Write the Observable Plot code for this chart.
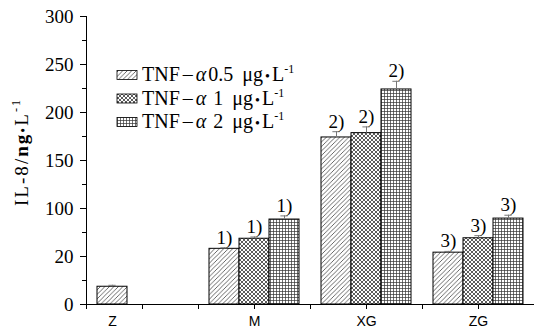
<!DOCTYPE html>
<html><head><meta charset="utf-8">
<script src="https://cdn.jsdelivr.net/npm/d3@7"></script>
<script src="https://cdn.jsdelivr.net/npm/@observablehq/plot@0.6"></script>
<style>body{margin:0;background:#fff}</style>
</head><body><div id="chart"></div>
<script>
// ---- data ----
const groups = ["Z", "M", "XG", "ZG"];
const seriesKeys = ["0.5", "1", "2"];
const valuesZ  = [18.5, null, null];
const valuesM  = [58, 68.5, 88.5];
const valuesXG = [174, 178.5, 224];
const valuesZG = [54, 69, 89.5];
const errZ  = [1.5, null, null];
const errM  = [1.0, 1.8, 3.8];
const errXG = [6.0, 6.5, 8.5];
const errZG = [1.3, 2.7, 3.5];
const notesZ  = ["", "", ""];
const notesM  = ["1)", "1)", "1)"];
const notesXG = ["2)", "2)", "2)"];
const notesZG = ["3)", "3)", "3)"];
const yTicks = [0, 50, 100, 150, 200, 250, 300];
const yTickLabels = ["0", "20", "100", "150", "200", "250", "300"];
const yMinorTicks = [25, 75, 125, 175, 225, 275];
const xTicks = [0, 1, 2, 3, 4, 5, 6, 7, 8];
const legendNums = ["0.5", " 1", " 2"];

// ---- layout ----
const barW = 30 / 56;
const patternIds = ["pHatch", "pCross", "pGrid"];
const values = [valuesZ, valuesM, valuesXG, valuesZG];
const errs = [errZ, errM, errXG, errZG];
const notes = [notesZ, notesM, notesXG, notesZG];

const rows = [];
groups.forEach((g, gi) => {
  const c = 1 + 2 * gi;
  seriesKeys.forEach((s, si) => {
    const v = values[gi][si];
    if (v == null) return;
    const x1 = c + (si - 1.5) * barW;
    rows.push({group: g, series: s, si, v, e: errs[gi][si], note: notes[gi][si],
      x1, x2: x1 + barW, xc: x1 + barW / 2, fill: `url(#${patternIds[si]})`});
  });
});
const labelRows = groups.map(g => {
  const r = rows.filter(d => d.group === g);
  return {group: g, x: d3.mean(r, d => d.xc)};
});

function defsAndLegend() {
  const g = d3.create("svg:g");
  const defs = g.append("defs");
  const p1 = defs.append("pattern").attr("id", "pHatch").attr("patternUnits", "userSpaceOnUse")
    .attr("width", 4.5).attr("height", 4.5);
  p1.append("rect").attr("width", 4.5).attr("height", 4.5).attr("fill", "#fff");
  p1.append("path").attr("d", "M-1,1 L1,-1 M0,4.5 L4.5,0 M3.5,5.5 L5.5,3.5")
    .attr("stroke", "#444").attr("stroke-width", 0.8);
  const p2 = defs.append("pattern").attr("id", "pCross").attr("patternUnits", "userSpaceOnUse")
    .attr("width", 4).attr("height", 4);
  p2.append("rect").attr("width", 4).attr("height", 4).attr("fill", "#fff");
  p2.append("path").attr("d", "M-1,1 L1,-1 M0,4 L4,0 M3,5 L5,3 M-1,3 L1,5 M0,0 L4,4 M3,-1 L5,1")
    .attr("stroke", "#333").attr("stroke-width", 0.8);
  const p3 = defs.append("pattern").attr("id", "pGrid").attr("patternUnits", "userSpaceOnUse")
    .attr("width", 3).attr("height", 3);
  p3.append("rect").attr("width", 3).attr("height", 3).attr("fill", "#fff");
  p3.append("path").attr("d", "M0,0.5 H3 M0.5,0 V3").attr("stroke", "#333").attr("stroke-width", 0.7);

  // legend
  const lg = g.append("g").attr("font-family", "Liberation Serif").attr("font-size", 20)
    .attr("fill", "#000").attr("text-anchor", "start");
  seriesKeys.forEach((k, i) => {
    const y = 75 + i * 23.5;
    lg.append("rect").attr("x", 117).attr("y", y - 4.5).attr("width", 20).attr("height", 9)
      .attr("fill", `url(#${patternIds[i]})`).attr("stroke", "#000").attr("stroke-width", 0.8);
    const t = lg.append("text").attr("x", 142).attr("y", y + 6);
    t.append("tspan").text("TNF");
    t.append("tspan").attr("dx", 3).text("\u2013");
    t.append("tspan").attr("dx", 3).attr("font-style", "italic").text("\u03b1");
    t.append("tspan").attr("dx", 2).text(legendNums[i]);
    t.append("tspan").attr("dx", 9).text("\u03bcg");
    t.append("tspan").attr("dx", 2).attr("font-size", 14).text("\u2022");
    t.append("tspan").attr("dx", 2).text("L");
    t.append("tspan").attr("dy", -8).attr("font-size", 12).text("-1");
  });
  // y title
  const yt = g.append("text").attr("font-family", "Liberation Serif").attr("font-size", 19)
    .attr("fill", "#000").attr("text-anchor", "middle")
    .attr("textLength", 106).attr("lengthAdjust", "spacing")
    .attr("transform", "translate(28,153) rotate(-90)");
  yt.append("tspan").text("IL-8/");
  yt.append("tspan").attr("font-weight", "bold").text("ng");
  yt.append("tspan").attr("font-size", 14).text("\u2022");
  yt.append("tspan").text("L");
  yt.append("tspan").attr("dy", -8).attr("font-size", 12).text("-1");
  return g.node();
}

const chart = Plot.plot({
  width: 534, height: 328,
  marginLeft: 86, marginRight: 0, marginTop: 16, marginBottom: 24,
  style: {fontFamily: "Liberation Serif", background: "#fff", color: "#000"},
  x: {domain: [0, 8], axis: null},
  y: {domain: [0, 300], axis: null},
  marks: [
    defsAndLegend,
    Plot.rectY(rows, {x1: "x1", x2: "x2", y1: 0, y2: "v", fill: d => d.fill, stroke: "#000", strokeWidth: 1}),
    Plot.ruleX(rows, {x: "xc", y1: "v", y2: d => d.v + d.e, stroke: "#777", strokeWidth: 1}),
    Plot.ruleY(rows, {y: d => d.v + d.e, x1: d => d.xc - 0.065, x2: d => d.xc + 0.065, stroke: "#777", strokeWidth: 1}),
    Plot.text(rows.filter(d => d.note), {x: "xc", y: d => d.v + d.e, text: "note", dy: -4,
      lineAnchor: "bottom", fontSize: 19, fontFamily: "Liberation Serif", fill: "#000"}),
    Plot.axisY({ticks: yTicks, tickFormat: d => yTickLabels[yTicks.indexOf(d)], tickSize: 6,
      tickPadding: 7, fontSize: 19, label: null, fontFamily: "Liberation Serif"}),
    Plot.axisY({ticks: yMinorTicks, tickFormat: () => "", tickSize: 4, label: null}),
    Plot.axisX({ticks: xTicks, tickFormat: () => "", tickSize: 5, label: null}),
    Plot.text(labelRows, {x: "x", y: 0, text: "group", dy: 17, fontSize: 14,
      fontFamily: "Liberation Sans", fill: "#000"}),
    Plot.ruleX([0], {stroke: "#000", strokeWidth: 1}),
    Plot.ruleY([0], {stroke: "#000", strokeWidth: 1.2})
  ]
});
document.getElementById("chart").appendChild(chart);
</script>
</body></html>
